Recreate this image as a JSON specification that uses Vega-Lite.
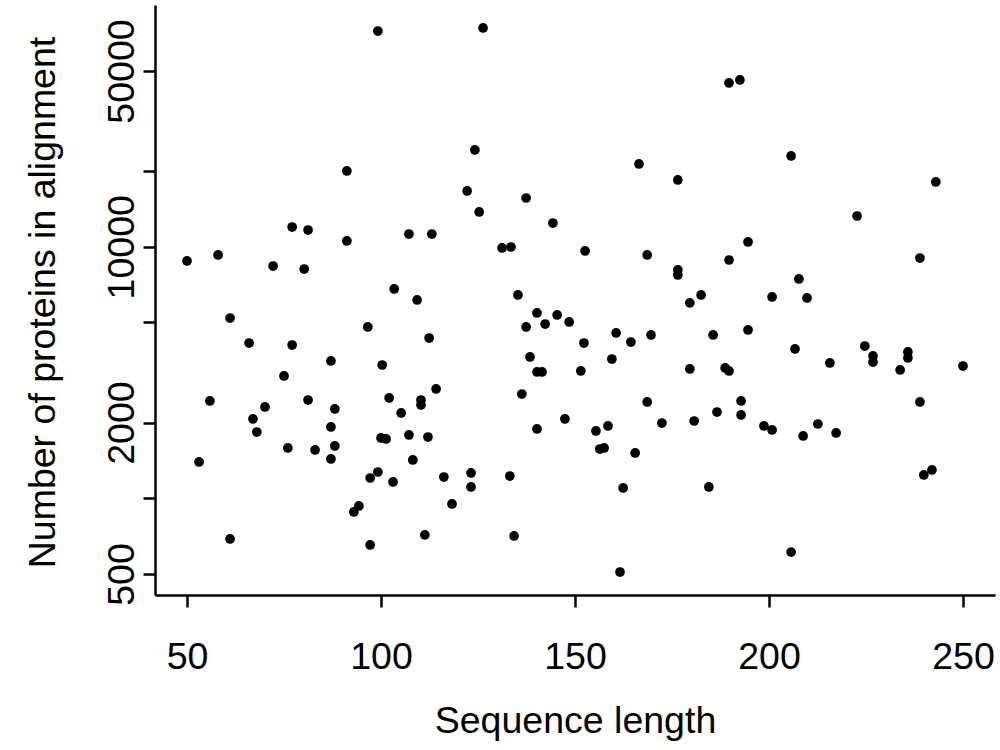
{
  "$schema": "https://vega.github.io/schema/vega-lite/v6.json",
  "width": 840,
  "height": 590,
  "autosize": {"type": "none"},
  "padding": {"left": 155, "top": 5, "right": 5, "bottom": 155},
  "background": "white",
  "config": {
    "view": {"stroke": null},
    "font": "Liberation Sans"
  },
  "data": {
    "values": [
      {"len": 50.0, "n": 8780}, {"len": 53.1, "n": 1394}, {"len": 55.9, "n": 2437}, {"len": 58.0, "n": 9276},
      {"len": 61.1, "n": 5209}, {"len": 61.1, "n": 689}, {"len": 66.0, "n": 4143}, {"len": 67.0, "n": 2067},
      {"len": 68.0, "n": 1834}, {"len": 70.1, "n": 2307}, {"len": 72.2, "n": 8386}, {"len": 75.0, "n": 3064},
      {"len": 76.0, "n": 1585}, {"len": 77.1, "n": 4068}, {"len": 77.1, "n": 11985}, {"len": 80.2, "n": 8159},
      {"len": 81.2, "n": 11660}, {"len": 81.2, "n": 2459}, {"len": 83.0, "n": 1556}, {"len": 87.1, "n": 3515},
      {"len": 87.1, "n": 1921}, {"len": 87.1, "n": 1433}, {"len": 88.1, "n": 2265}, {"len": 88.1, "n": 1614},
      {"len": 91.2, "n": 10545}, {"len": 91.2, "n": 20020}, {"len": 93.0, "n": 882}, {"len": 94.3, "n": 932},
      {"len": 96.6, "n": 4798}, {"len": 97.2, "n": 652}, {"len": 97.2, "n": 1204}, {"len": 99.2, "n": 72100},
      {"len": 99.2, "n": 1272}, {"len": 100.3, "n": 3388}, {"len": 100.0, "n": 1737}, {"len": 101.3, "n": 1721},
      {"len": 102.1, "n": 2505}, {"len": 103.1, "n": 1161}, {"len": 103.4, "n": 6796}, {"len": 105.2, "n": 2184},
      {"len": 107.2, "n": 11240}, {"len": 107.2, "n": 1785}, {"len": 108.2, "n": 1420}, {"len": 109.3, "n": 6144},
      {"len": 110.3, "n": 2459}, {"len": 110.3, "n": 2350}, {"len": 111.3, "n": 715}, {"len": 112.4, "n": 4337},
      {"len": 112.1, "n": 1752}, {"len": 113.1, "n": 11240}, {"len": 114.2, "n": 2720}, {"len": 116.2, "n": 1215},
      {"len": 118.3, "n": 949}, {"len": 122.2, "n": 16670}, {"len": 123.2, "n": 1261}, {"len": 123.2, "n": 1109},
      {"len": 124.2, "n": 24260}, {"len": 125.3, "n": 13755}, {"len": 126.3, "n": 74150}, {"len": 133.2, "n": 1226},
      {"len": 131.2, "n": 9890}, {"len": 133.5, "n": 9980}, {"len": 134.3, "n": 708}, {"len": 135.3, "n": 6432},
      {"len": 136.3, "n": 2597}, {"len": 137.4, "n": 15630}, {"len": 137.4, "n": 4798}, {"len": 138.4, "n": 3646},
      {"len": 140.2, "n": 1886}, {"len": 140.2, "n": 3178}, {"len": 140.2, "n": 5455}, {"len": 141.5, "n": 3178},
      {"len": 142.3, "n": 4931}, {"len": 144.3, "n": 12430}, {"len": 145.4, "n": 5355}, {"len": 147.4, "n": 2067},
      {"len": 148.5, "n": 5023}, {"len": 151.5, "n": 3207}, {"len": 152.6, "n": 9622}, {"len": 152.3, "n": 4143},
      {"len": 155.4, "n": 1852}, {"len": 156.4, "n": 1570}, {"len": 157.5, "n": 1585}, {"len": 158.5, "n": 1939},
      {"len": 159.5, "n": 3579}, {"len": 160.6, "n": 4542}, {"len": 161.6, "n": 509}, {"len": 162.4, "n": 1099},
      {"len": 164.4, "n": 4181}, {"len": 165.5, "n": 1514}, {"len": 166.5, "n": 21340}, {"len": 168.6, "n": 9276},
      {"len": 168.6, "n": 2415}, {"len": 169.6, "n": 4460}, {"len": 172.4, "n": 1992}, {"len": 176.5, "n": 8087},
      {"len": 176.5, "n": 7725}, {"len": 176.5, "n": 18435}, {"len": 179.6, "n": 5981}, {"len": 179.6, "n": 3267},
      {"len": 180.7, "n": 2029}, {"len": 182.5, "n": 6432}, {"len": 184.5, "n": 1109}, {"len": 185.6, "n": 4460},
      {"len": 186.6, "n": 2203}, {"len": 188.7, "n": 3297}, {"len": 189.7, "n": 44800}, {"len": 189.7, "n": 3207},
      {"len": 189.7, "n": 8860}, {"len": 192.5, "n": 46045}, {"len": 192.8, "n": 2437}, {"len": 192.8, "n": 2144},
      {"len": 194.6, "n": 10450}, {"len": 194.6, "n": 4668}, {"len": 198.7, "n": 1939}, {"len": 200.8, "n": 1869},
      {"len": 200.8, "n": 6316}, {"len": 205.7, "n": 22960}, {"len": 205.7, "n": 611}, {"len": 206.7, "n": 3923},
      {"len": 207.7, "n": 7447}, {"len": 208.8, "n": 1769}, {"len": 209.8, "n": 6258}, {"len": 212.6, "n": 1974},
      {"len": 215.7, "n": 3451}, {"len": 217.3, "n": 1818}, {"len": 222.7, "n": 13255}, {"len": 224.7, "n": 4031},
      {"len": 226.8, "n": 3680}, {"len": 226.8, "n": 3482}, {"len": 233.8, "n": 3237}, {"len": 235.8, "n": 3817},
      {"len": 235.8, "n": 3613}, {"len": 238.9, "n": 9023}, {"len": 238.9, "n": 2415}, {"len": 239.9, "n": 1238},
      {"len": 242.0, "n": 1296}, {"len": 243.0, "n": 18100}, {"len": 250.0, "n": 3357}
    ]
  },
  "mark": {"type": "circle", "size": 95, "color": "black", "opacity": 1},
  "encoding": {
    "x": {
      "field": "len",
      "type": "quantitative",
      "scale": {"domain": [41.75, 258.25], "nice": false, "zero": false},
      "axis": {
        "title": "Sequence length",
        "values": [50, 100, 150, 200, 250],
        "grid": false,
        "domainColor": "black",
        "domainWidth": 2.5,
        "tickColor": "black",
        "tickWidth": 2.5,
        "tickSize": 12,
        "labelFontSize": 37.5,
        "labelColor": "black",
        "labelPadding": 31,
        "labelFlush": false,
        "labelOverlap": false,
        "titleFontSize": 37.5,
        "titleFontWeight": "normal",
        "titleColor": "black",
        "titleBaseline": "alphabetic",
        "titleY": 137
      }
    },
    "y": {
      "field": "n",
      "type": "quantitative",
      "scale": {"type": "log", "domain": [412.5, 91486], "nice": false, "zero": false},
      "axis": {
        "title": "Number of proteins in alignment",
        "values": [500, 1000, 2000, 5000, 10000, 20000, 50000],
        "labelExpr": "datum.value == 500 || datum.value == 2000 || datum.value == 10000 || datum.value == 50000 ? format(datum.value, 'd') : ''",
        "grid": false,
        "domainColor": "black",
        "domainWidth": 2.5,
        "tickColor": "black",
        "tickWidth": 2.5,
        "tickSize": 12,
        "labelFontSize": 37.5,
        "labelColor": "black",
        "labelAngle": 270,
        "labelAlign": "center",
        "labelBaseline": "alphabetic",
        "labelPadding": 10,
        "labelFlush": false,
        "labelOverlap": false,
        "labelBound": false,
        "titleFontSize": 37.5,
        "titleFontWeight": "normal",
        "titleColor": "black",
        "titleAngle": 270,
        "titleAlign": "center",
        "titleBaseline": "alphabetic",
        "titleX": -101,
        "titleY": 297
      }
    }
  }
}
